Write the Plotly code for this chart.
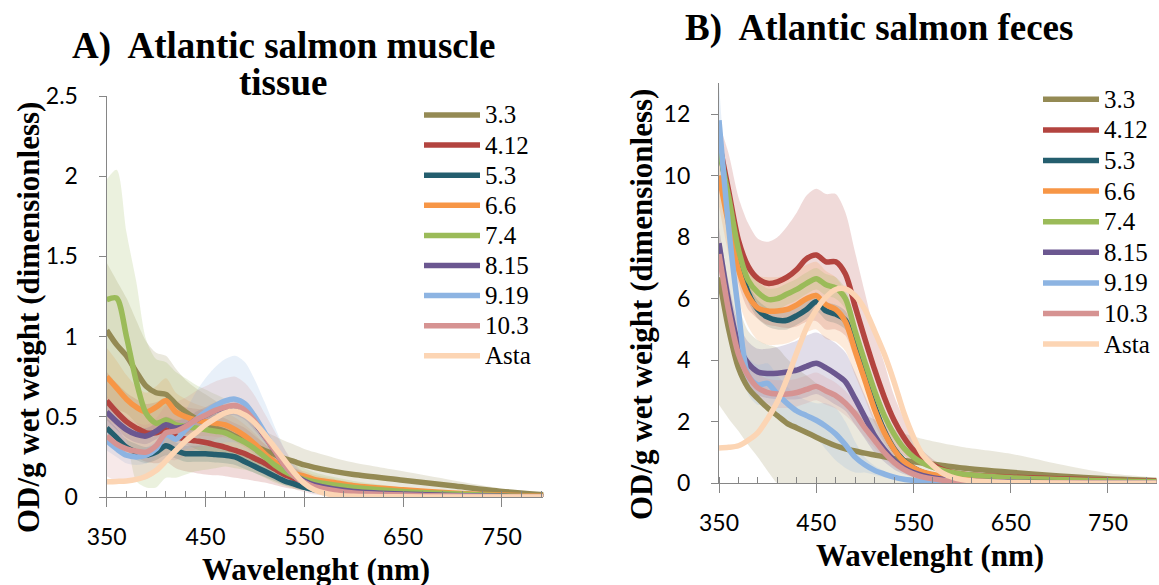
import plotly.graph_objects as go

# Wavelength grid (nm)
wavelength = [350, 360, 370, 380, 390, 400, 410, 420, 430, 440, 450, 460, 470, 480,
              490, 500, 510, 520, 530, 540, 550, 560, 580, 600, 650, 700, 750, 800]

series_names = ["3.3", "4.12", "5.3", "6.6", "7.4", "8.15", "9.19", "10.3", "Asta"]
series_colors = ["#948A54", "#B3443F", "#245E6E", "#F79646", "#9BBB59",
                 "#6B5790", "#8DB4E2", "#D69392", "#FCD5B4"]

# ---- A) muscle tissue: mean OD/g ----
muscle_3_3 = [1.04, 0.95, 0.88, 0.78, 0.69, 0.65, 0.64, 0.58, 0.53, 0.49, 0.46, 0.43, 0.41, 0.38,
              0.35, 0.32, 0.29, 0.265, 0.24, 0.22, 0.20, 0.185, 0.16, 0.14, 0.105, 0.07, 0.035, 0.01]
muscle_4_12 = [0.60, 0.53, 0.47, 0.43, 0.40, 0.40, 0.42, 0.38, 0.36, 0.35, 0.34, 0.325, 0.31, 0.29,
               0.27, 0.24, 0.21, 0.175, 0.14, 0.115, 0.095, 0.08, 0.06, 0.045, 0.03, 0.018, 0.008, 0.003]
muscle_5_3 = [0.43, 0.37, 0.31, 0.28, 0.26, 0.28, 0.32, 0.29, 0.27, 0.27, 0.27, 0.265, 0.26, 0.25,
              0.22, 0.19, 0.16, 0.13, 0.10, 0.08, 0.06, 0.045, 0.025, 0.015, 0.008, 0.004, 0.002, 0.0]
muscle_6_6 = [0.75, 0.68, 0.61, 0.56, 0.53, 0.56, 0.60, 0.53, 0.50, 0.48, 0.47, 0.46, 0.45, 0.42,
              0.38, 0.33, 0.27, 0.22, 0.17, 0.145, 0.13, 0.11, 0.09, 0.07, 0.045, 0.025, 0.012, 0.004]
muscle_7_4 = [1.23, 1.24, 1.0, 0.72, 0.52, 0.46, 0.48, 0.45, 0.44, 0.43, 0.42, 0.41, 0.40, 0.37,
              0.34, 0.30, 0.25, 0.20, 0.16, 0.13, 0.11, 0.095, 0.075, 0.06, 0.035, 0.02, 0.008, 0.002]
muscle_8_15 = [0.53, 0.47, 0.42, 0.39, 0.38, 0.41, 0.45, 0.43, 0.44, 0.48, 0.51, 0.54, 0.555, 0.56,
               0.53, 0.46, 0.38, 0.29, 0.20, 0.14, 0.10, 0.075, 0.05, 0.035, 0.018, 0.01, 0.004, 0.001]
muscle_9_19 = [0.35, 0.30, 0.26, 0.25, 0.26, 0.30, 0.39, 0.36, 0.42, 0.48, 0.53, 0.57, 0.60, 0.61,
               0.58, 0.50, 0.40, 0.30, 0.20, 0.13, 0.09, 0.06, 0.03, 0.02, 0.01, 0.005, 0.002, 0.0]
muscle_10_3 = [0.38, 0.33, 0.30, 0.285, 0.28, 0.32, 0.40, 0.41, 0.44, 0.48, 0.51, 0.54, 0.56, 0.57,
               0.54, 0.47, 0.38, 0.29, 0.20, 0.13, 0.09, 0.065, 0.04, 0.025, 0.012, 0.006, 0.002, 0.0]
muscle_asta = [0.095, 0.097, 0.10, 0.11, 0.13, 0.165, 0.225, 0.29, 0.35, 0.40, 0.45, 0.49, 0.525, 0.535,
               0.51, 0.46, 0.39, 0.31, 0.23, 0.15, 0.085, 0.045, 0.012, 0.004, 0.001, 0.0, 0.0, 0.0]

# ---- A) muscle tissue: standard deviation ----
muscle_3_3_sd = [0.42, 0.40, 0.36, 0.32, 0.28, 0.25, 0.24, 0.22, 0.20, 0.19, 0.18, 0.17, 0.16, 0.15,
                 0.14, 0.13, 0.12, 0.115, 0.11, 0.105, 0.10, 0.095, 0.085, 0.075, 0.055, 0.035, 0.018, 0.005]
muscle_4_12_sd = [0.18, 0.18, 0.18, 0.18, 0.18, 0.19, 0.20, 0.20, 0.20, 0.20, 0.20, 0.19, 0.18, 0.17,
                  0.16, 0.14, 0.12, 0.10, 0.08, 0.065, 0.05, 0.04, 0.03, 0.02, 0.012, 0.007, 0.003, 0.001]
muscle_5_3_sd = [0.06, 0.06, 0.05, 0.05, 0.05, 0.05, 0.06, 0.05, 0.05, 0.05, 0.05, 0.05, 0.05, 0.05,
                 0.045, 0.04, 0.035, 0.03, 0.025, 0.02, 0.015, 0.012, 0.008, 0.005, 0.003, 0.002, 0.001, 0.0]
muscle_6_6_sd = [0.18, 0.17, 0.15, 0.13, 0.12, 0.13, 0.14, 0.12, 0.11, 0.10, 0.09, 0.085, 0.08, 0.075,
                 0.07, 0.065, 0.06, 0.05, 0.04, 0.035, 0.03, 0.028, 0.024, 0.02, 0.014, 0.008, 0.004, 0.001]
muscle_7_4_sd = [0.75, 0.80, 0.65, 0.62, 0.46, 0.40, 0.36, 0.33, 0.30, 0.27, 0.25, 0.23, 0.21, 0.19,
                 0.17, 0.15, 0.13, 0.11, 0.09, 0.08, 0.07, 0.06, 0.05, 0.04, 0.025, 0.015, 0.008, 0.002]
muscle_8_15_sd = [0.05, 0.05, 0.05, 0.05, 0.05, 0.05, 0.05, 0.05, 0.05, 0.05, 0.05, 0.05, 0.05, 0.05,
                  0.05, 0.045, 0.04, 0.035, 0.03, 0.02, 0.015, 0.012, 0.008, 0.005, 0.003, 0.002, 0.001, 0.0]
muscle_9_19_sd = [0.06, 0.05, 0.05, 0.05, 0.05, 0.05, 0.06, 0.08, 0.12, 0.17, 0.21, 0.24, 0.26, 0.27,
                  0.26, 0.23, 0.19, 0.14, 0.10, 0.07, 0.05, 0.04, 0.02, 0.015, 0.01, 0.005, 0.002, 0.0]
muscle_10_3_sd = [0.25, 0.23, 0.20, 0.18, 0.17, 0.17, 0.17, 0.18, 0.18, 0.18, 0.18, 0.18, 0.18, 0.18,
                  0.17, 0.16, 0.14, 0.12, 0.10, 0.08, 0.06, 0.05, 0.035, 0.025, 0.012, 0.006, 0.003, 0.0]

# ---- B) feces: mean OD/g ----
feces_3_3 = [6.7, 5.0, 3.75, 3.1, 2.75, 2.45, 2.2, 1.95, 1.8, 1.65, 1.5, 1.35, 1.22, 1.12,
             1.05, 0.98, 0.92, 0.86, 0.8, 0.74, 0.7, 0.66, 0.58, 0.5, 0.36, 0.24, 0.15, 0.09]
feces_4_12 = [11.1, 9.5, 7.9, 7.05, 6.65, 6.5, 6.55, 6.7, 6.95, 7.3, 7.42, 7.2, 7.2, 6.8,
              5.75, 4.7, 3.7, 2.8, 2.05, 1.5, 1.08, 0.8, 0.45, 0.3, 0.2, 0.15, 0.1, 0.07]
feces_5_3 = [11.0, 9.2, 7.3, 6.2, 5.65, 5.4, 5.3, 5.3, 5.45, 5.65, 5.9, 5.6, 5.5, 5.3,
             4.45, 3.45, 2.5, 1.7, 1.12, 0.74, 0.5, 0.35, 0.2, 0.12, 0.06, 0.04, 0.02, 0.01]
feces_6_6 = [10.0, 8.4, 6.95, 6.1, 5.7, 5.6, 5.6, 5.65, 5.8, 6.0, 6.1, 5.8, 5.65, 5.25,
             4.3, 3.35, 2.4, 1.65, 1.1, 0.72, 0.5, 0.36, 0.22, 0.14, 0.07, 0.04, 0.02, 0.01]
feces_7_4 = [10.9, 9.3, 7.6, 6.6, 6.2, 5.98, 6.0, 6.15, 6.3, 6.5, 6.65, 6.45, 6.35, 6.0,
             4.95, 3.95, 3.0, 2.2, 1.6, 1.15, 0.85, 0.65, 0.42, 0.3, 0.18, 0.12, 0.08, 0.05]
feces_8_15 = [7.8, 5.9, 4.5, 3.9, 3.62, 3.57, 3.58, 3.62, 3.68, 3.8, 3.9, 3.75, 3.55, 3.3,
              2.75, 2.15, 1.55, 1.1, 0.75, 0.5, 0.35, 0.25, 0.13, 0.08, 0.04, 0.02, 0.01, 0.005]
feces_9_19 = [11.8, 8.3, 5.6, 3.5, 3.2, 3.25, 2.9, 2.6, 2.35, 2.2, 2.05, 1.85, 1.6, 1.25,
              0.85, 0.6, 0.42, 0.3, 0.2, 0.13, 0.09, 0.06, 0.03, 0.02, 0.01, 0.005, 0.0, 0.0]
feces_10_3 = [7.45, 5.6, 4.2, 3.5, 3.1, 2.95, 2.9, 2.9, 2.95, 3.05, 3.15, 3.0, 2.85, 2.6,
              2.25, 1.8, 1.4, 1.0, 0.68, 0.45, 0.3, 0.2, 0.1, 0.05, 0.02, 0.01, 0.005, 0.0]
feces_asta = [1.15, 1.17, 1.22, 1.4, 1.65, 2.1, 2.65, 3.4, 4.25, 5.05, 5.64, 6.05, 6.3, 6.32,
              6.1, 5.65, 4.95, 4.2, 3.3, 2.3, 1.5, 0.9, 0.33, 0.12, 0.03, 0.01, 0.0, 0.0]

# ---- B) feces: standard deviation ----
feces_3_3_sd = [4.15, 2.9, 2.05, 1.85, 1.9, 2.05, 2.2, 2.1, 1.95, 1.85, 1.75, 1.65, 1.55, 1.45,
                1.35, 1.25, 1.15, 1.05, 0.95, 0.88, 0.82, 0.78, 0.72, 0.68, 0.6, 0.38, 0.18, 0.05]
feces_4_12_sd = [0.6, 1.2, 1.4, 1.4, 1.3, 1.35, 1.45, 1.65, 1.85, 2.05, 2.15, 2.2, 2.2, 2.0,
                 1.75, 1.5, 1.2, 1.1, 0.8, 0.6, 0.4, 0.25, 0.12, 0.07, 0.03, 0.02, 0.01, 0.0]
feces_5_3_sd = [0.3, 0.3, 0.3, 0.3, 0.3, 0.3, 0.3, 0.3, 0.3, 0.3, 0.3, 0.3, 0.3, 0.3,
                0.28, 0.25, 0.2, 0.15, 0.1, 0.07, 0.05, 0.035, 0.02, 0.012, 0.006, 0.004, 0.002, 0.0]
feces_6_6_sd = [1.0, 1.0, 1.0, 1.0, 1.05, 1.1, 1.1, 1.1, 1.1, 1.1, 1.1, 1.1, 1.05, 0.95,
                0.8, 0.6, 0.45, 0.32, 0.22, 0.15, 0.1, 0.07, 0.04, 0.02, 0.01, 0.005, 0.002, 0.0]
feces_7_4_sd = [0.35, 0.35, 0.35, 0.35, 0.35, 0.35, 0.35, 0.35, 0.35, 0.35, 0.35, 0.35, 0.35, 0.33,
                0.3, 0.25, 0.2, 0.15, 0.12, 0.09, 0.07, 0.05, 0.035, 0.025, 0.015, 0.01, 0.005, 0.003]
feces_8_15_sd = [0.5, 0.6, 0.7, 0.7, 0.75, 0.8, 0.85, 0.9, 0.95, 1.0, 1.0, 1.0, 1.0, 0.95,
                 0.85, 0.7, 0.55, 0.4, 0.3, 0.2, 0.15, 0.1, 0.05, 0.03, 0.01, 0.005, 0.002, 0.0]
feces_9_19_sd = [1.2, 0.5, 0.6, 0.6, 0.65, 0.65, 0.6, 0.55, 0.5, 0.5, 0.55, 0.75, 0.85, 0.75,
                 0.5, 0.25, 0.15, 0.1, 0.08, 0.06, 0.05, 0.04, 0.02, 0.01, 0.005, 0.002, 0.0, 0.0]
feces_10_3_sd = [0.6, 0.6, 0.55, 0.5, 0.45, 0.45, 0.45, 0.45, 0.45, 0.45, 0.45, 0.45, 0.42, 0.4,
                 0.36, 0.3, 0.25, 0.2, 0.15, 0.1, 0.07, 0.05, 0.03, 0.02, 0.01, 0.005, 0.002, 0.0]

muscle_means = [muscle_3_3, muscle_4_12, muscle_5_3, muscle_6_6, muscle_7_4,
                muscle_8_15, muscle_9_19, muscle_10_3, muscle_asta]
muscle_sds = [muscle_3_3_sd, muscle_4_12_sd, muscle_5_3_sd, muscle_6_6_sd, muscle_7_4_sd,
              muscle_8_15_sd, muscle_9_19_sd, muscle_10_3_sd, None]
feces_means = [feces_3_3, feces_4_12, feces_5_3, feces_6_6, feces_7_4,
               feces_8_15, feces_9_19, feces_10_3, feces_asta]
feces_sds = [feces_3_3_sd, feces_4_12_sd, feces_5_3_sd, feces_6_6_sd, feces_7_4_sd,
             feces_8_15_sd, feces_9_19_sd, feces_10_3_sd, None]

SERIF = "Liberation Serif, Times New Roman, serif"
SANS = "Lato, Calibri, sans-serif"


def rgba(hex_color, alpha):
    h = hex_color.lstrip("#")
    r, g, b = int(h[0:2], 16), int(h[2:4], 16), int(h[4:6], 16)
    return f"rgba({r},{g},{b},{alpha})"


fig = go.Figure()


def add_panel(means, sds, xa, ya):
    # shaded +/- SD bands underneath
    for mean, sd, color in zip(means, sds, series_colors):
        if sd is None:
            continue
        upper = [m + s for m, s in zip(mean, sd)]
        lower = [m - s for m, s in zip(mean, sd)]
        fig.add_trace(go.Scatter(
            x=wavelength + wavelength[::-1], y=upper + lower[::-1],
            fill="toself", fillcolor=rgba(color, 0.2),
            line=dict(width=0, shape="spline", smoothing=0.8),
            mode="lines", hoverinfo="skip", showlegend=False,
            xaxis=xa, yaxis=ya))
    # mean spectra on top
    for mean, color, name in zip(means, series_colors, series_names):
        fig.add_trace(go.Scatter(
            x=wavelength, y=mean, name=name, mode="lines",
            line=dict(color=color, width=5.5, shape="spline", smoothing=0.8),
            showlegend=False, xaxis=xa, yaxis=ya))


add_panel(muscle_means, muscle_sds, "x", "y")
add_panel(feces_means, feces_sds, "x2", "y2")

W, H = 1159, 585
axis_common = dict(showgrid=False, zeroline=False, showline=True, linecolor="#868686",
                   linewidth=1.3, tickcolor="#868686", automargin=False,
                   tickfont=dict(family=SANS, size=23, color="#000"))

xaxis_common = dict(axis_common, tick0=350, dtick=100, ticks="outside", ticklen=9, tickwidth=1.3,
                    ticklabelstandoff=10,
                    minor=dict(ticks="inside", ticklen=6, dtick=20, tick0=350,
                               tickcolor="#868686", tickwidth=1.3))
yaxis_common = dict(axis_common, ticks="outside", ticklen=7, tickwidth=1.3, ticklabelstandoff=16)

fig.update_layout(
    width=W, height=H, autosize=False,
    margin=dict(l=0, r=0, t=0, b=0, pad=0, autoexpand=False),
    paper_bgcolor="white", plot_bgcolor="white",
    xaxis=dict(xaxis_common, domain=[106.7 / W, 543.3 / W], range=[350, 792], anchor="y"),
    yaxis=dict(yaxis_common, domain=[1 - 497 / H, 1 - 96 / H], range=[0, 2.5], dtick=0.5, anchor="x"),
    xaxis2=dict(xaxis_common, domain=[719 / W, 1156.6 / W], range=[350, 800], anchor="y2"),
    yaxis2=dict(yaxis_common, domain=[1 - 483.3 / H, 1 - 83.3 / H], range=[0, 13], dtick=2, anchor="x2"),
)


def px(x):
    return x / W


def py(y):
    return 1 - y / H


annotations = []
# panel titles
annotations.append(dict(text="A)\u00a0 Atlantic salmon muscle", x=px(283), y=py(46)))
annotations.append(dict(text="tissue", x=px(283), y=py(83)))
annotations.append(dict(text="B)\u00a0 Atlantic salmon feces", x=px(879), y=py(28)))
for a in annotations:
    a.update(xref="paper", yref="paper", showarrow=False, xanchor="center", yanchor="middle",
             font=dict(family=SERIF, size=37, color="#000", weight="bold"))

# axis titles
for (x, y) in [(28, 318), (641, 305)]:
    annotations.append(dict(text="OD/g wet weight (dimensionless)", x=px(x), y=py(y), textangle=-90,
                            xref="paper", yref="paper", showarrow=False, xanchor="center",
                            yanchor="middle", font=dict(family=SERIF, size=31, color="#000", weight="bold")))
for (x, y) in [(316, 569), (930, 555)]:
    annotations.append(dict(text="Wavelenght (nm)", x=px(x), y=py(y),
                            xref="paper", yref="paper", showarrow=False, xanchor="center",
                            yanchor="middle", font=dict(family=SERIF, size=31, color="#000", weight="bold")))

# legends (sample line + label)
shapes = []
for (x0, x1, y0, step) in [(424, 480, 115, 30.1), (1043, 1099, 99.3, 30.6)]:
    for i, (name, color) in enumerate(zip(series_names, series_colors)):
        yy = y0 + step * i
        shapes.append(dict(type="line", xref="paper", yref="paper", x0=px(x0), x1=px(x1),
                           y0=py(yy), y1=py(yy), line=dict(color=color, width=5.5)))
        annotations.append(dict(text=name, x=px(x1 + 3), y=py(yy), xref="paper", yref="paper",
                                showarrow=False, xanchor="left", yanchor="middle",
                                font=dict(family=SERIF, size=25, color="#000")))

fig.update_layout(annotations=annotations, shapes=shapes)
fig.write_html("out.html")
